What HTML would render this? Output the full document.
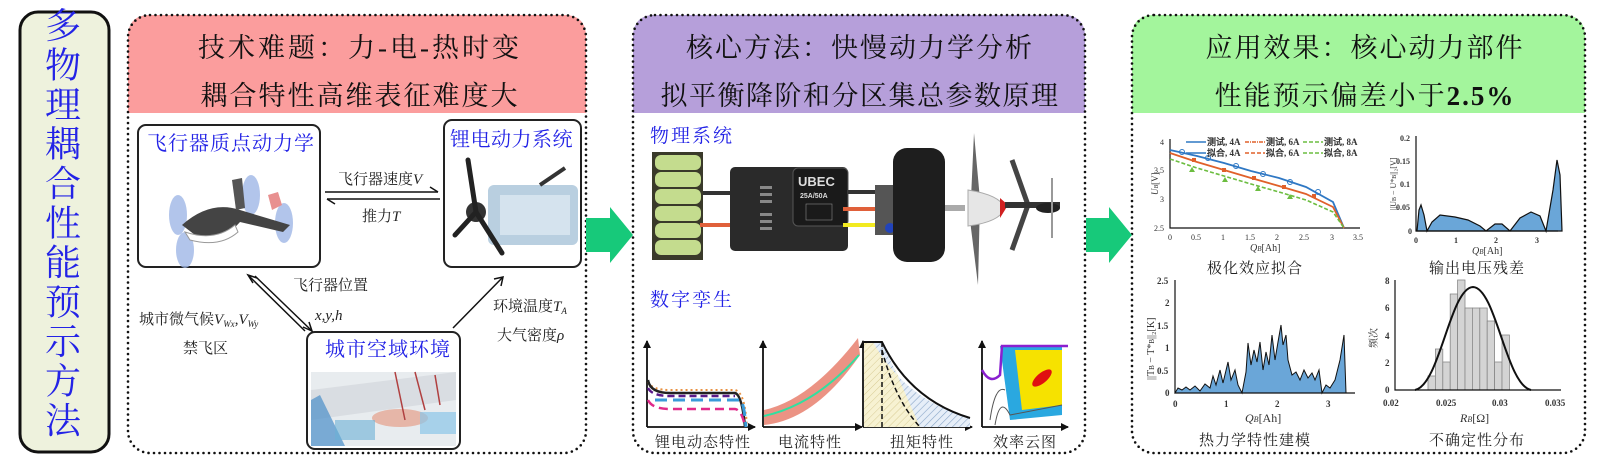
<!DOCTYPE html>
<html><head><meta charset="utf-8"><style>
html,body{margin:0;padding:0;background:#fff;}
svg{display:block}
.h{font-family:"Liberation Serif","Noto Serif CJK SC",serif;font-size:27px;fill:#111;}
.b{font-family:"Liberation Serif","Noto Serif CJK SC",serif;fill:#2323e6;}
.l{font-family:"Liberation Serif","Noto Serif CJK SC",serif;font-size:15px;fill:#222;}
.t{font-family:"Liberation Serif",serif;font-size:9px;fill:#333;font-weight:bold}
</style></head><body>
<svg width="1600" height="474" viewBox="0 0 1600 474" xmlns="http://www.w3.org/2000/svg">
<defs>
<marker id="ax" markerWidth="8" markerHeight="8" refX="7" refY="4" orient="auto" markerUnits="userSpaceOnUse"><path d="M0,0 L8,4 L0,8Z" fill="#111"/></marker>
<pattern id="hb" width="5" height="5" patternUnits="userSpaceOnUse" patternTransform="rotate(45)"><rect width="5" height="5" fill="#e6eef8"/><line x1="0" y1="0" x2="0" y2="5" stroke="#8aa6c8" stroke-width="1.2"/></pattern>
<pattern id="hy" width="5" height="5" patternUnits="userSpaceOnUse" patternTransform="rotate(45)"><rect width="5" height="5" fill="#f7f2d2"/><line x1="0" y1="0" x2="0" y2="5" stroke="#d8cc96" stroke-width="1"/></pattern>
</defs>

<!-- left title -->
<rect x="20" y="12" width="89" height="440" rx="18" fill="#eef2dd" stroke="#111" stroke-width="3"/>
<g class="b" font-size="36" text-anchor="middle">
<text x="63" y="38">多</text><text x="63" y="77.5">物</text><text x="63" y="117">理</text><text x="63" y="156.5">耦</text><text x="63" y="196">合</text><text x="63" y="235.5">性</text><text x="63" y="275">能</text><text x="63" y="314.5">预</text><text x="63" y="354">示</text><text x="63" y="393.5">方</text><text x="63" y="433">法</text>
</g>

<!-- Panel headers -->
<path d="M128,113 V37 Q128,15 150,15 H564 Q586,15 586,37 V113Z" fill="#fb9d9d"/>
<path d="M633,113 V37 Q633,15 655,15 H1063 Q1085,15 1085,37 V113Z" fill="#b69fda"/>
<path d="M1132,113 V37 Q1132,15 1154,15 H1563 Q1585,15 1585,37 V113Z" fill="#a3f59c"/>
<g fill="none" stroke="#111" stroke-width="2.6" stroke-dasharray="0 5.5" stroke-linecap="round">
<rect x="128" y="15" width="458" height="438" rx="22"/>
<rect x="633" y="15" width="452" height="438" rx="22"/>
<rect x="1132" y="15" width="453" height="438" rx="22"/>
</g>

<g class="h" text-anchor="middle">
<text x="360" y="57" letter-spacing="3">技术难题：力-电-热时变</text>
<text x="360" y="105" letter-spacing="2">耦合特性高维表征难度大</text>
<text x="860" y="57" letter-spacing="2">核心方法：快慢动力学分析</text>
<text x="860" y="105" letter-spacing="1.5">拟平衡降阶和分区集总参数原理</text>
<text x="1365" y="57" letter-spacing="2">应用效果：核心动力部件</text>
<text x="1365" y="105" letter-spacing="2">性能预示偏差小于<tspan font-weight="bold">2.5%</tspan></text>
</g>

<!-- green arrows -->
<path d="M586,218 H610 V207 L633,235 L610,263 V252 H586Z" fill="#17c97a"/>
<path d="M1086,218 H1109 V207 L1132,235 L1109,263 V252 H1086Z" fill="#17c97a"/>

<!-- Panel 1 -->
<rect x="138" y="125" width="182" height="142" rx="8" fill="#fff" stroke="#222" stroke-width="2"/>
<rect x="444" y="120" width="137" height="147" rx="8" fill="#fff" stroke="#222" stroke-width="2"/>
<rect x="307" y="332" width="153" height="117" rx="8" fill="#fff" stroke="#222" stroke-width="2"/>
<g class="b" font-size="20">
<text x="147" y="150" letter-spacing="1">飞行器质点动力学</text>
<text x="450" y="146" letter-spacing="0.5">锂电动力系统</text>
<text x="325" y="356" letter-spacing="1">城市空域环境</text>
</g>
<g>
<ellipse cx="178" cy="215" rx="9" ry="20" fill="#9fb6e6" opacity="0.8"/>
<ellipse cx="185" cy="250" rx="9" ry="18" fill="#9fb6e6" opacity="0.8"/>
<ellipse cx="251" cy="195" rx="9" ry="20" fill="#9fb6e6" opacity="0.8"/>
<ellipse cx="284" cy="223" rx="9" ry="20" fill="#9fb6e6" opacity="0.8"/>
<path d="M182,225 Q210,200 240,210 L290,225 L283,232 L240,222 Q225,240 195,235Z" fill="#444"/>
<path d="M185,232 Q215,242 235,225 L238,232 Q220,248 190,240Z" fill="#fff" stroke="#999"/>
<path d="M232,180 L242,178 L245,208 L236,210Z" fill="#555"/>
<path d="M268,195 L278,192 L282,205 L272,210Z" fill="#e89090"/>
</g>
<g>
<rect x="488" y="185" width="90" height="60" rx="6" fill="#b9cfe0"/>
<rect x="500" y="195" width="70" height="40" fill="#d5e3ee"/>
<circle cx="476" cy="212" r="10" fill="#333"/>
<path d="M476,212 L468,160 M476,212 L455,235 M476,212 L502,253" stroke="#222" stroke-width="5" stroke-linecap="round"/>
<path d="M540,185 L565,168" stroke="#333" stroke-width="4"/>
</g>
<g>
<rect x="311" y="372" width="145" height="74" fill="#e8ecef"/>
<path d="M311,390 L456,372 V400 L311,420Z" fill="#d9dde2"/>
<path d="M320,395 L345,446 H311 V400Z" fill="#4a8ec9" opacity="0.7"/>
<ellipse cx="400" cy="418" rx="28" ry="9" fill="#e6a08a" opacity="0.7"/>
<rect x="420" y="412" width="36" height="22" fill="#8cc6e8" opacity="0.7"/>
<path d="M395,372 L405,420 M415,372 L425,410 M435,375 L440,405" stroke="#b04040" stroke-width="1.5"/>
<rect x="335" y="420" width="40" height="20" fill="#6bb0d6" opacity="0.6"/>
</g>
<g stroke="#111" stroke-width="1.5" fill="none">
<path d="M325,192 H438"/><path d="M430,187 L438,192"/>
<path d="M327,199 H440"/><path d="M335,204 L327,199"/>
<path d="M255,276 L312,331"/><path d="M303,327 L312,331 L309,322"/>
<path d="M253,283 L248,275 L257,278" /><path d="M248,275 L305,331"/>
<path d="M453,328 L503,277"/><path d="M494,279 L503,277 L501,286"/>
</g>
<g class="l">
<text x="338" y="184">飞行器速度<tspan font-style="italic">V</tspan></text>
<text x="362" y="221">推力<tspan font-style="italic">T</tspan></text>
<text x="293" y="290">飞行器位置</text>
<text x="315" y="320" font-style="italic">x,y,h</text>
<text x="139" y="324">城市微气候<tspan font-style="italic">V</tspan><tspan font-size="9" font-style="italic" dy="3">Wx</tspan><tspan dy="-3">,</tspan><tspan font-style="italic">V</tspan><tspan font-size="9" font-style="italic" dy="3">Wy</tspan></text>
<text x="183" y="353">禁飞区</text>
<text x="493" y="311">环境温度<tspan font-style="italic">T</tspan><tspan font-size="9" font-style="italic" dy="3">A</tspan></text>
<text x="497" y="340">大气密度<tspan font-style="italic">ρ</tspan></text>
</g>

<!-- Panel 2 -->
<g class="b" font-size="19" letter-spacing="2">
<text x="650" y="142">物理系统</text>
<text x="650" y="306">数字孪生</text>
</g>
<rect x="652" y="152" width="51" height="108" fill="#3a3a2a"/>
<g fill="#c4dc8e">
<rect x="655" y="155" width="46" height="15" rx="6"/><rect x="655" y="172" width="46" height="15" rx="6"/><rect x="655" y="189" width="46" height="15" rx="6"/><rect x="655" y="206" width="46" height="15" rx="6"/><rect x="655" y="223" width="46" height="15" rx="6"/><rect x="655" y="240" width="46" height="15" rx="6"/>
</g>
<path d="M703,193 H735" stroke="#333" stroke-width="4"/>
<path d="M700,225 H770" stroke="#e0603a" stroke-width="4"/>
<rect x="730" y="167" width="118" height="84" rx="5" fill="#2a2a2a"/>
<rect x="793" y="168" width="55" height="58" rx="5" fill="#1a1a1a" stroke="#555"/>
<text x="798" y="186" font-family="Liberation Sans,sans-serif" font-size="13" font-weight="bold" fill="#ddd">UBEC</text>
<text x="800" y="198" font-family="Liberation Sans,sans-serif" font-size="7" font-weight="bold" fill="#ddd">25A/50A</text>
<rect x="806" y="204" width="26" height="16" fill="none" stroke="#888" stroke-width="0.6"/>
<g fill="#888"><rect x="760" y="186" width="12" height="3"/><rect x="760" y="193" width="12" height="3"/><rect x="760" y="200" width="12" height="3"/><rect x="760" y="213" width="12" height="3"/><rect x="760" y="220" width="12" height="3"/><rect x="760" y="227" width="12" height="3"/></g>
<path d="M848,192 H880" stroke="#333" stroke-width="4"/>
<path d="M843,209 H880" stroke="#e0603a" stroke-width="4"/>
<path d="M843,225 H880" stroke="#f2ea20" stroke-width="4"/>
<rect x="875" y="185" width="20" height="50" fill="#555"/>
<circle cx="890" cy="228" r="5" fill="#2244bb"/>
<rect x="893" y="148" width="52" height="114" rx="14" fill="#1e1e1e"/>
<rect x="945" y="205" width="20" height="6" fill="#aaa"/>
<path d="M974,133 L980,200 L978,285 L970,220Z" fill="#666"/>
<path d="M968,190 Q1000,195 1005,208 Q1000,222 968,226Z" fill="#e6e6e6" stroke="#aaa"/>
<path d="M1012,160 L1028,205 L1012,250" stroke="#444" stroke-width="5" fill="none"/>
<path d="M1000,198 L1008,205 L1000,218Z" fill="#d02020"/>
<path d="M1005,205 H1060" stroke="#333" stroke-width="6"/>
<ellipse cx="1048" cy="208" rx="12" ry="5" fill="#222"/>
<path d="M1052,178 V238" stroke="#999" stroke-width="2"/>
<g stroke="#111" stroke-width="1.8" fill="none">
<path d="M647,427 V341" marker-end="url(#ax)"/><path d="M647,427 H755" marker-end="url(#ax)"/>
<path d="M763,427 V341" marker-end="url(#ax)"/><path d="M763,427 H862" marker-end="url(#ax)"/>
<path d="M863,427 V341" marker-end="url(#ax)"/><path d="M863,427 H972" marker-end="url(#ax)"/>
<path d="M982,427 V341" marker-end="url(#ax)"/><path d="M982,427 H1068" marker-end="url(#ax)"/>
</g>
<path d="M648,382 Q652,390 670,390 H735 Q745,392 747,427" stroke="#e89040" stroke-width="2" stroke-dasharray="2 3" fill="none"/>
<path d="M648,380 Q650,393 670,393 H735 Q742,395 745,427" stroke="#222" stroke-width="2.5" fill="none"/>
<path d="M648,388 Q652,396 670,396 H735" stroke="#5a1a8a" stroke-width="2.5" stroke-dasharray="7 4" fill="none"/>
<path d="M655,400 H740 Q744,402 746,427" stroke="#3a9ad8" stroke-width="3" stroke-dasharray="12 6" fill="none"/>
<path d="M648,400 Q652,409 670,409 H735 Q742,410 745,427" stroke="#e02a8a" stroke-width="2.5" stroke-dasharray="9 5" fill="none"/>
<path d="M764,410 Q810,400 858,338 L860,355 Q815,420 764,425Z" fill="#e8806e" opacity="0.85"/>
<path d="M764,416 Q815,405 859,355" stroke="#30e0a0" stroke-width="2" fill="none"/>
<path d="M864,342 H872 Q890,355 905,390 L920,427 H864Z" fill="url(#hy)"/>
<path d="M882,342 H873 Q905,400 970,418 V427 H920 Q895,370 882,342Z" fill="url(#hb)"/>
<path d="M864,342 H882 Q910,400 970,418" stroke="#111" stroke-width="2" fill="none"/>
<path d="M882,342 V427 M882,350 Q895,400 920,427" stroke="#111" stroke-width="1.5" stroke-dasharray="5 3" fill="none"/>
<path d="M1000,346 H1062 V415 L1010,420 Z" fill="#2aa8e0"/>
<path d="M1015,350 H1062 V405 L1022,410 Z" fill="#f6e200"/>
<ellipse cx="1042" cy="378" rx="12" ry="5" transform="rotate(-40 1042 378)" fill="#e01010"/>
<path d="M982,370 Q990,385 1000,375 L1002,346 H1068" stroke="#8a20d0" stroke-width="2.5" fill="none"/>
<path d="M990,420 Q995,385 1005,390 M995,425 Q1000,395 1010,415 L1062,405" stroke="#555" stroke-width="1" fill="none"/>
<g class="l" font-size="16" letter-spacing="1">
<text x="655" y="447">锂电动态特性</text><text x="778" y="447">电流特性</text><text x="890" y="447">扭矩特性</text><text x="993" y="447">效率云图</text>
</g>

<!-- Panel 3 charts -->
<g stroke="#111" stroke-width="1.2" fill="none"><path d="M1170,139 V228 H1360"/></g>
<path d="M1170,150 L1197,156 L1224,163 L1251,171 L1279,178 L1306,187 L1333,202 L1344,228" stroke="#2f78c4" stroke-width="1.8" fill="none"/>
<path d="M1170,153 L1197,162 L1224,170 L1251,178 L1279,186 L1306,194 L1333,207 L1344,228" stroke="#e0602a" stroke-width="1.8" fill="none"/>
<path d="M1170,159 L1197,168 L1224,176 L1251,184 L1279,192 L1306,200 L1333,212 L1344,228" stroke="#6cbd40" stroke-width="1.6" stroke-dasharray="4 2" fill="none"/>
<g fill="none" stroke="#2f78c4" stroke-width="1"><circle cx="1182" cy="152" r="2.5"/><circle cx="1208" cy="158" r="2.5"/><circle cx="1236" cy="166" r="2.5"/><circle cx="1263" cy="174" r="2.5"/><circle cx="1290" cy="182" r="2.5"/><circle cx="1318" cy="192" r="2.5"/></g>
<g fill="#e0602a"><rect x="1192" y="158" width="4" height="4"/><rect x="1222" y="168" width="4" height="4"/><rect x="1252" y="176" width="4" height="4"/><rect x="1282" y="185" width="4" height="4"/><rect x="1312" y="194" width="4" height="4"/></g>
<g fill="#6cbd40"><path d="M1192,167 l3,5 h-6z"/><path d="M1225,177 l3,5 h-6z"/><path d="M1258,186 l3,5 h-6z"/><path d="M1290,194 l3,5 h-6z"/></g>
<g font-family="Liberation Serif" font-size="8" fill="#333">
<text x="1160" y="145">4</text><text x="1154" y="173">3.5</text><text x="1160" y="202">3</text><text x="1154" y="231">2.5</text>
<text x="1168" y="240">0</text><text x="1191" y="240">0.5</text><text x="1221" y="240">1</text><text x="1245" y="240">1.5</text><text x="1275" y="240">2</text><text x="1299" y="240">2.5</text><text x="1330" y="240">3</text><text x="1353" y="240">3.5</text>
<text x="1250" y="251" font-size="10" font-style="italic">Q<tspan font-size="7">B</tspan><tspan font-style="normal">[Ah]</tspan></text>
<text x="1158" y="195" font-size="9" transform="rotate(-90 1158 195)" font-style="italic">U<tspan font-size="6">B</tspan><tspan font-style="normal">[V]</tspan></text>
</g>
<g stroke-width="1.5"><path d="M1186,142 H1206" stroke="#2f78c4"/><path d="M1245,142 H1265" stroke="#e0602a" stroke-dasharray="4 1 1 1"/><path d="M1303,142 H1323" stroke="#6cbd40" stroke-dasharray="4 2"/>
<path d="M1186,153 H1206" stroke="#2f78c4"/><path d="M1245,153 H1265" stroke="#e0602a" stroke-dasharray="4 2"/><path d="M1303,153 H1323" stroke="#6cbd40" stroke-dasharray="4 2"/></g>
<g class="t"><text x="1207" y="145">测试, 4A</text><text x="1266" y="145">测试, 6A</text><text x="1324" y="145">测试, 8A</text>
<text x="1207" y="156">拟合, 4A</text><text x="1266" y="156">拟合, 6A</text><text x="1324" y="156">拟合, 8A</text></g>
<path d="M1417,231 L1419,210 L1421,205 L1424,215 L1427,231 L1432,222 L1440,215 L1455,217 L1468,220 L1480,226 L1486,231 L1495,224 L1502,224 L1510,231 L1520,218 L1531,212 L1540,216 L1546,231 L1553,190 L1557,160 L1560,175 L1562,231Z" fill="#6aa6d8" stroke="#111" stroke-width="1.2"/>
<path d="M1416,136 V231 H1558" stroke="#111" stroke-width="1.2" fill="none"/>
<g font-family="Liberation Serif" font-size="8" fill="#333" font-weight="bold">
<text x="1400" y="141">0.2</text><text x="1396" y="164">0.15</text><text x="1400" y="187">0.1</text><text x="1396" y="210">0.05</text><text x="1408" y="234">0</text>
<text x="1414" y="243">0</text><text x="1454" y="243">1</text><text x="1494" y="243">2</text><text x="1535" y="243">3</text>
<text x="1472" y="254" font-size="10" font-weight="normal" font-style="italic">Q<tspan font-size="7">B</tspan><tspan font-style="normal">[Ah]</tspan></text>
<text x="1396" y="210" font-size="8" font-weight="normal" transform="rotate(-90 1396 210)">||U<tspan font-size="6">B</tspan> − U*<tspan font-size="6">B</tspan>||₂[V]</text>
</g>
<path d="M1175,393 L1178,388 L1182,390 L1186,387 L1190,390 L1195,386 L1200,391 L1205,384 L1210,388 L1213,376 L1216,385 L1220,370 L1223,383 L1228,362 L1231,380 L1235,370 L1238,385 L1242,393 L1246,372 L1248,343 L1251,365 L1254,350 L1257,362 L1260,342 L1263,370 L1266,352 L1269,365 L1272,335 L1275,360 L1278,342 L1281,325 L1283,345 L1286,335 L1288,360 L1292,375 L1296,372 L1300,380 L1304,370 L1308,378 L1312,373 L1315,380 L1319,370 L1322,393 L1326,385 L1330,388 L1335,380 L1340,360 L1344,335 L1346,393Z" fill="#6aa6d8" stroke="#111" stroke-width="1"/>
<path d="M1175,280 V393 H1355" stroke="#111" stroke-width="1.2" fill="none"/>
<g font-family="Liberation Serif" font-size="9" fill="#333" font-weight="bold">
<text x="1157" y="284">2.5</text><text x="1165" y="306">2</text><text x="1157" y="329">1.5</text><text x="1165" y="351">1</text><text x="1157" y="374">0.5</text><text x="1165" y="396">0</text>
<text x="1173" y="407">0</text><text x="1224" y="407">1</text><text x="1275" y="407">2</text><text x="1326" y="407">3</text>
<text x="1245" y="422" font-size="12" font-weight="normal" font-style="italic">Q<tspan font-size="8">B</tspan><tspan font-style="normal">[Ah]</tspan></text>
<text x="1154" y="380" font-size="10" font-weight="normal" transform="rotate(-90 1154 380)">||T<tspan font-size="7">B</tspan> − T*<tspan font-size="7">B</tspan>||₂[K]</text>
</g>
<g fill="#d4d4d4" stroke="#888" stroke-width="0.8">
<rect x="1428" y="376" width="7.4" height="14"/><rect x="1435.4" y="349" width="7.4" height="41"/><rect x="1442.8" y="362" width="7.4" height="28"/><rect x="1450.2" y="294" width="7.4" height="96"/><rect x="1457.6" y="280" width="7.4" height="110"/><rect x="1465" y="308" width="7.4" height="82"/><rect x="1472.4" y="308" width="7.4" height="82"/><rect x="1479.8" y="308" width="7.4" height="82"/><rect x="1487.2" y="321" width="7.4" height="69"/><rect x="1494.6" y="362" width="7.4" height="28"/><rect x="1502" y="335" width="7.4" height="55"/>
</g>
<path d="M1415,390 C1440,385 1450,288 1473,287 C1496,288 1506,385 1531,390" stroke="#111" stroke-width="2" fill="none"/>
<path d="M1395,280 V390 H1561" stroke="#111" stroke-width="1.2" fill="none"/>
<g font-family="Liberation Serif" font-size="9" fill="#333" font-weight="bold">
<text x="1385" y="284">8</text><text x="1385" y="311">6</text><text x="1385" y="339">4</text><text x="1385" y="366">2</text><text x="1385" y="393">0</text>
<text x="1383" y="406">0.02</text><text x="1436" y="406">0.025</text><text x="1492" y="406">0.03</text><text x="1545" y="406">0.035</text>
<text x="1460" y="422" font-size="12" font-weight="normal" font-style="italic">R<tspan font-size="8">B</tspan><tspan font-style="normal">[Ω]</tspan></text>
<text x="1377" y="348" font-size="10" font-weight="normal" transform="rotate(-90 1377 348)" font-family="Noto Serif CJK SC">频次</text>
</g>
<g class="l" font-size="16" text-anchor="middle" letter-spacing="1">
<text x="1255" y="273">极化效应拟合</text><text x="1477" y="273">输出电压残差</text>
<text x="1255" y="445">热力学特性建模</text><text x="1477" y="445">不确定性分布</text>
</g>
</svg>
</body></html>
